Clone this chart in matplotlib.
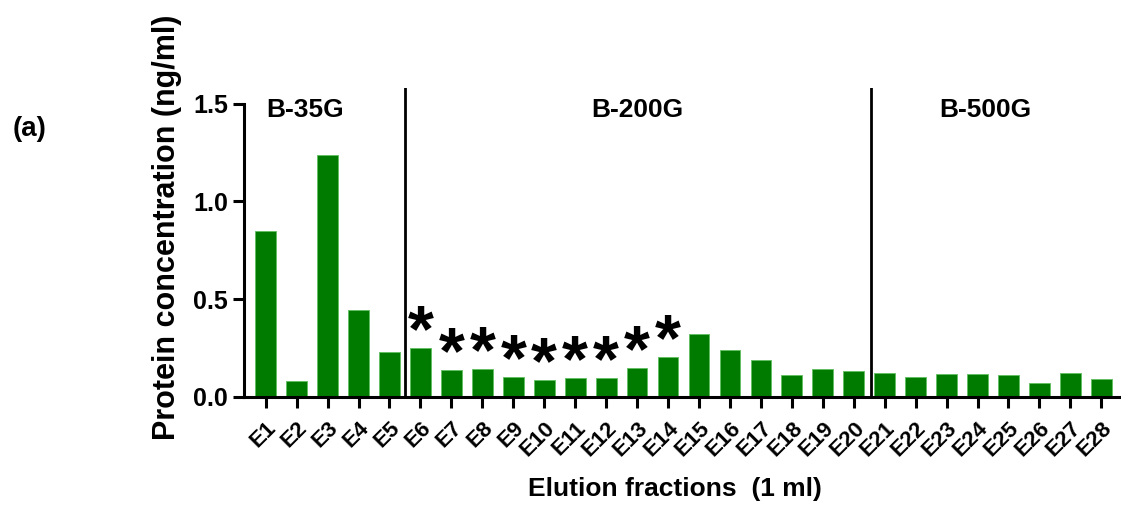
import numpy as np
import matplotlib.pyplot as plt

plt.rcParams['font.family'] = ['Liberation Sans', 'DejaVu Sans']
plt.rcParams['font.weight'] = 'bold'

fractions = ['E%d' % i for i in range(1, 29)]
conc = [0.85, 0.078, 1.238, 0.444, 0.228, 0.248, 0.137, 0.142, 0.099, 0.085,
        0.094, 0.094, 0.146, 0.201, 0.32, 0.238, 0.186, 0.109, 0.141, 0.131,
        0.119, 0.099, 0.114, 0.114, 0.109, 0.071, 0.119, 0.089]
starred = ['E6', 'E7', 'E8', 'E9', 'E10', 'E11', 'E12', 'E13', 'E14']
resins = ['B-35G', 'B-200G', 'B-500G']
resin_label_x = [2.28, 13.0, 24.25]
dividers = [5.5, 20.55]

x = np.arange(1, len(fractions) + 1)

fig = plt.figure(figsize=(11.21, 5.05), dpi=100)
ax = fig.add_axes([0.2177, 0.2145, 0.7813, 0.6112])

ax.bar(x, conc, width=0.67, color='#007b00', edgecolor='#5fbf5f', linewidth=0.6)

# asterisks over the significant fractions
for f, v in zip(fractions, conc):
    if f in starred:
        i = fractions.index(f) + 1
        ax.annotate('*', (i, v), xytext=(0, -2), textcoords='offset points',
                    ha='center', va='baseline', fontsize=48, fontweight='bold')

for d in dividers:
    ax.axvline(d, color='black', lw=2)

for name, px in zip(resins, resin_label_x):
    ax.text(px, 1.47, name, ha='center', va='center', fontsize=19, fontweight='bold')

ax.set_xlim(0.3, 28.6)
ax.set_ylim(0, 1.58)
ax.set_yticks([0.0, 0.5, 1.0, 1.5])
ax.set_yticklabels(['0.0', '0.5', '1.0', '1.5'], fontsize=18, fontweight='bold')
ax.set_xticks(x)
ax.set_xticklabels(fractions, rotation=45, ha='right', rotation_mode='anchor',
                   fontsize=16, fontweight='bold')

for s in ['top', 'right']:
    ax.spines[s].set_visible(False)
ax.spines['left'].set_bounds(0, 1.5)
ax.spines['left'].set_linewidth(2.2)
ax.spines['bottom'].set_linewidth(2.2)
ax.tick_params(axis='both', direction='out', length=8, width=2.2)
ax.tick_params(axis='x', pad=7)

ax.set_ylabel('Protein concentration (ng/ml)', fontsize=22, fontweight='bold',
              va='center', ha='center')
ax.yaxis.set_label_coords(-0.088, 0.548)
ax.set_xlabel('Elution fractions  (1 ml)', fontsize=19, fontweight='bold',
              va='center', ha='center')
ax.xaxis.set_label_coords(0.492, -0.30)

fig.text(0.011, 0.745, '(a)', fontsize=20, fontweight='bold', ha='left', va='center')

fig.savefig('out.png', dpi=100)
